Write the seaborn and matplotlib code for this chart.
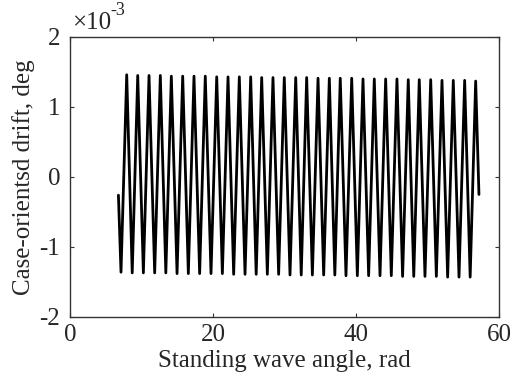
import numpy as np
import pandas as pd
import matplotlib
matplotlib.use("Agg")
import matplotlib.pyplot as plt
from matplotlib.ticker import FuncFormatter
import seaborn as sns

# values (drift in units of 1e-3 deg)
start_angle, start_drift = 6.77, -0.26
end_angle, end_drift = 57.2, -0.25

peak_angle = [7.93, 9.47, 11.05, 12.63, 14.17, 15.76, 17.34, 18.92, 20.52, 22.10,
              23.68, 25.27, 26.81, 28.39, 29.97, 31.57, 33.10, 34.69, 36.27, 37.80,
              39.40, 40.98, 42.56, 44.15, 45.73, 47.31, 48.85, 50.45, 52.03, 53.61,
              55.20, 56.74]
peak_drift = [1.46, 1.45, 1.45, 1.45, 1.44, 1.44, 1.44, 1.44, 1.43, 1.43,
              1.43, 1.43, 1.42, 1.42, 1.42, 1.42, 1.42, 1.41, 1.41, 1.41,
              1.41, 1.40, 1.40, 1.40, 1.40, 1.39, 1.39, 1.39, 1.38, 1.38,
              1.38, 1.37]

trough_angle = [7.13, 8.70, 10.26, 11.84, 13.40, 14.97, 16.55, 18.13, 19.72, 21.31,
                22.89, 24.48, 26.04, 27.60, 29.18, 30.77, 32.34, 33.90, 35.48, 37.04,
                38.60, 40.19, 41.77, 43.36, 44.94, 46.52, 48.08, 49.65, 51.24, 52.82,
                54.41, 55.97]
trough_drift = [-1.36, -1.37, -1.37, -1.37, -1.37, -1.38, -1.38, -1.38, -1.38, -1.38,
                -1.39, -1.39, -1.39, -1.39, -1.39, -1.40, -1.40, -1.40, -1.40, -1.40,
                -1.41, -1.41, -1.41, -1.41, -1.41, -1.42, -1.42, -1.42, -1.42, -1.43,
                -1.43, -1.43]

x_ticks = [0, 20, 40, 60]
y_ticks = [-2e-3, -1e-3, 0, 1e-3, 2e-3]

# trough, peak, trough, peak ... in order of angle
angle = [start_angle]
drift = [start_drift]
for ta, td, pa, pd_ in zip(trough_angle, trough_drift, peak_angle, peak_drift):
    angle += [ta, pa]
    drift += [td, pd_]
angle.append(end_angle)
drift.append(end_drift)
df = pd.DataFrame({"angle": angle, "drift": np.array(drift) * 1e-3})

sns.set_style("ticks")
plt.rcParams["font.family"] = ["Liberation Serif", "DejaVu Serif"]
plt.rcParams["axes.unicode_minus"] = False

fs = 18
fig = plt.figure(figsize=(5.16, 3.78), dpi=100)
ax = fig.add_axes([0.1357, 0.1614, 0.8313, 0.7408])
sns.lineplot(data=df, x="angle", y="drift", sort=False, estimator=None,
             color="black", linewidth=2.0, ax=ax)

ax.set_xlim(0, 60)
ax.set_ylim(-2e-3, 2e-3)
ax.set_xticks(x_ticks)
ax.set_yticks(y_ticks)
ax.yaxis.set_major_formatter(FuncFormatter(lambda v, p: f"{v * 1e3:g}"))

# exponent label like MATLAB
ax.text(0.005, 1.01, "\u00d710", transform=ax.transAxes, fontsize=fs,
        ha="left", va="bottom")
ax.text(0.093, 1.065, "-3", transform=ax.transAxes, fontsize=fs * 0.72,
        ha="left", va="bottom")

ax.set_xlabel("Standing wave angle, rad", fontsize=fs, labelpad=3)
ax.set_ylabel("Case-orientsd drift, deg", fontsize=fs, labelpad=3)
ax.tick_params(direction="in", length=3, labelsize=fs, top=True, right=True,
               color="#333333", width=0.8)
ax.tick_params(axis="x", pad=5)
ax.tick_params(axis="y", pad=7)
for s in ax.spines.values():
    s.set_visible(True)
    s.set_color("#333333")
    s.set_linewidth(1.0)

fig.savefig("out.png", dpi=100)
